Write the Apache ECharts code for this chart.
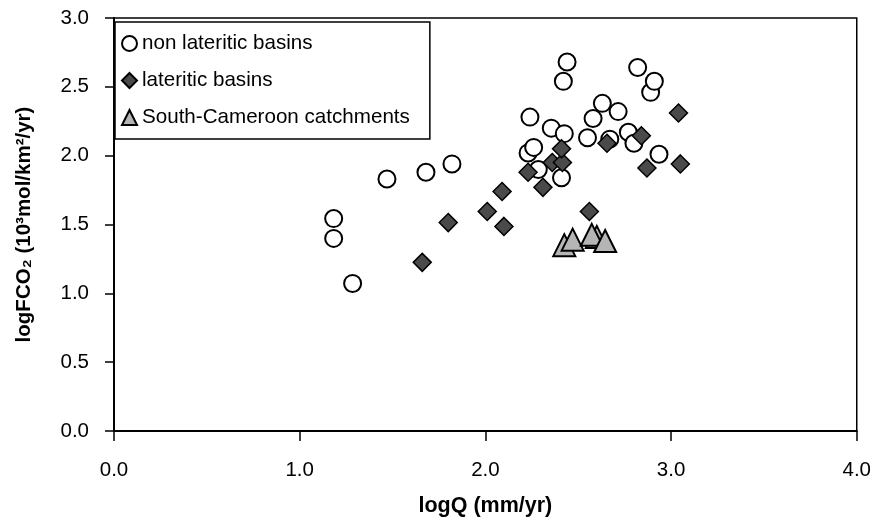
<!DOCTYPE html>
<html>
<head>
<meta charset="utf-8">
<script src="https://cdn.jsdelivr.net/npm/echarts@6/dist/echarts.min.js"></script>
<style>
html,body{margin:0;padding:0;background:#fff;}
#chart{width:874px;height:522px;}
</style>
</head>
<body>
<div id="chart"></div>
<script>
// Data
const nonLateriticX = [1.183,1.183,1.285,1.47,1.68,1.82,2.23,2.26,2.24,2.285,2.41,2.355,2.425,2.42,2.44,2.55,2.58,2.63,2.67,2.715,2.77,2.80,2.82,2.89,2.91,2.935];
const nonLateriticY = [1.543,1.399,1.072,1.83,1.88,1.94,2.02,2.06,2.28,1.90,1.84,2.20,2.16,2.54,2.68,2.13,2.27,2.38,2.12,2.32,2.17,2.09,2.64,2.46,2.54,2.01];

const lateriticX = [1.66,1.80,2.01,2.10,2.09,2.23,2.31,2.36,2.415,2.41,2.56,2.655,2.84,2.87,3.04,3.05];
const lateriticY = [1.225,1.514,1.594,1.486,1.74,1.88,1.77,1.95,1.95,2.05,1.594,2.09,2.145,1.91,2.31,1.94];

const cameroonX = [2.425,2.47,2.60,2.573,2.645];
const cameroonY = [1.35,1.39,1.41,1.425,1.38];

const seriesNames = ['non lateritic basins','lateritic basins','South-Cameroon catchments'];
const xTicks = {min:0, max:4, interval:1};
const yTicks = {min:0, max:3, interval:0.5};
const xTitle = 'logQ (mm/yr)';
const yTitle = 'logFCO\u2082 (10\u00B3mol/km\u00B2/yr)';

const zip = (xs, ys) => xs.map((x, i) => [x, ys[i]]);
const FONT = '"Liberation Sans", Arial, Helvetica, sans-serif';

const chart = echarts.init(document.getElementById('chart'), null, {renderer:'canvas'});
chart.setOption({
  animation: false,
  backgroundColor: '#fff',
  grid: {left:114, right:16, top:18, bottom:90, show:true, borderColor:'#000', borderWidth:1.5, backgroundColor:'transparent'},
  legend: {
    orient: 'vertical',
    left: 115, top: 22,
    padding: [11, 20, 11, 6],
    itemGap: 16,
    itemWidth: 15, itemHeight: 15,
    backgroundColor: '#fff',
    borderColor: '#000', borderWidth: 1.5, borderRadius: 0,
    textStyle: {fontFamily: FONT, fontSize: 20.6, color: '#000', lineHeight: 20},
    data: seriesNames
  },
  xAxis: {
    type: 'value', min: xTicks.min, max: xTicks.max, interval: xTicks.interval,
    name: xTitle, nameLocation: 'middle', nameGap: 64,
    nameTextStyle: {fontFamily: FONT, fontSize: 21.5, fontWeight: 'bold', color: '#000'},
    axisLine: {show: true, onZero: false, lineStyle: {color: '#000', width: 2}},
    axisTick: {show: true, inside: false, length: 10, lineStyle: {color: '#000', width: 1.5}},
    axisLabel: {fontFamily: FONT, fontSize: 20.5, color: '#000', margin: 29, formatter: v => v.toFixed(1)},
    splitLine: {show: false}
  },
  yAxis: {
    type: 'value', min: yTicks.min, max: yTicks.max, interval: yTicks.interval,
    name: yTitle, nameLocation: 'middle', nameGap: 79, nameRotate: 90,
    nameTextStyle: {fontFamily: FONT, fontSize: 20.5, fontWeight: 'bold', color: '#000'},
    axisLine: {show: true, onZero: false, lineStyle: {color: '#000', width: 2}},
    axisTick: {show: true, inside: false, length: 9, lineStyle: {color: '#000', width: 1.5}},
    axisLabel: {fontFamily: FONT, fontSize: 20.5, color: '#000', margin: 25, formatter: v => v.toFixed(1)},
    splitLine: {show: false}
  },
  series: [
    {
      name: seriesNames[0], type: 'scatter', symbol: 'circle', symbolSize: 17, z: 2,
      itemStyle: {color: '#fff', borderColor: '#000', borderWidth: 2, opacity: 1},
      data: zip(nonLateriticX, nonLateriticY)
    },
    {
      name: seriesNames[1], type: 'scatter', symbol: 'diamond', symbolSize: 18, z: 3,
      itemStyle: {color: '#4a4a4a', borderColor: '#000', borderWidth: 1.5, opacity: 1},
      data: zip(lateriticX, lateriticY)
    },
    {
      name: seriesNames[2], type: 'scatter', symbol: 'triangle', symbolSize: [22, 22], z: 4,
      itemStyle: {color: '#b5b5b5', borderColor: '#000', borderWidth: 2, opacity: 1},
      data: zip(cameroonX, cameroonY)
    }
  ]
});
</script>
</body>
</html>
